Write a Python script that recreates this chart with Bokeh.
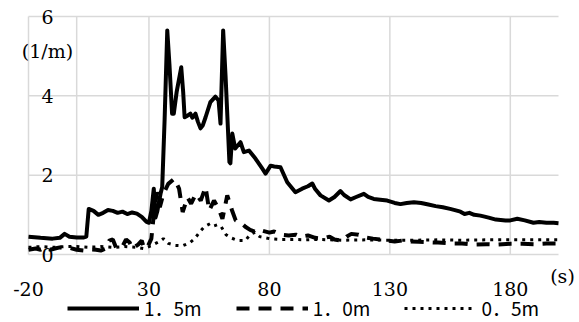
from bokeh.plotting import figure
from bokeh.models import (Range1d, Label, LabelSet, ColumnDataSource, Legend,
                          LegendItem)
from bokeh.core.properties import value
from bokeh.embed import file_html
from bokeh.resources import INLINE

# --- data -------------------------------------------------------------
# 1.5 m series: time (s) and value (1/m)
t_15 = [-20, -15, -10, -7, -5, -3, 0, 3, 4, 5, 7, 9, 11, 13, 15, 17, 19, 21, 23,
        25, 27, 29, 30, 31, 32, 32.7, 33.5, 34.8, 35.5, 36.5, 37.6, 38.5, 39.6,
        40.3, 41.5, 43.4, 44.2, 44.8, 46, 47.2, 48, 49.3, 50.3, 51.4, 52.3, 53.5,
        55.5, 57.6, 58.9, 59.7, 60.8, 61.8, 63.4, 63.8, 64.6, 65.8, 68, 69.4,
        71.5, 74.2, 77, 78.4, 80.5, 82, 84.6, 87.4, 90.8, 93.6, 96, 97.8, 99,
        101.2, 104.7, 107, 109.5, 111, 113.7, 116, 119.2, 121, 123.3, 126, 128.9,
        132, 134.4, 137, 140, 143, 146, 149, 152, 155, 157, 159.3, 161, 163, 165,
        167.6, 171, 174, 176, 178, 180, 182.9, 186, 189.6, 192, 195, 198, 200]
v_15 = [0.45, 0.42, 0.40, 0.42, 0.52, 0.45, 0.43, 0.43, 0.45, 1.15, 1.10, 1.00,
        1.05, 1.12, 1.10, 1.05, 1.08, 1.02, 1.06, 1.03, 0.95, 0.82, 0.80, 1.10,
        1.66, 0.93, 1.10, 1.53, 1.70, 3.40, 5.65, 4.80, 3.55, 3.55, 4.10, 4.72,
        4.10, 3.46, 3.50, 3.55, 3.45, 3.55, 3.35, 3.18, 3.25, 3.46, 3.84, 3.98,
        3.88, 3.30, 5.65, 4.50, 2.33, 2.30, 3.05, 2.67, 2.83, 2.58, 2.62, 2.42,
        2.17, 2.04, 2.24, 2.22, 2.20, 1.82, 1.57, 1.66, 1.72, 1.79, 1.65, 1.49,
        1.36, 1.45, 1.60, 1.50, 1.39, 1.45, 1.53, 1.45, 1.40, 1.38, 1.36, 1.30,
        1.27, 1.30, 1.32, 1.30, 1.26, 1.22, 1.19, 1.15, 1.12, 1.08, 1.02, 1.05,
        1.00, 0.98, 0.93, 0.88, 0.87, 0.86, 0.86, 0.90, 0.86, 0.80, 0.82, 0.80,
        0.80, 0.79]

# 1.0 m series
t_10 = [-20, -17, -15, -13, -11, -9, -7, -5, -3, 0, 3, 5, 8, 10, 12, 13.5, 15,
        16.5, 19, 20.5, 22, 23, 25.5, 27, 28, 29.5, 31, 32, 33.3, 34.5, 36, 38,
        40.5, 42.5, 44, 46, 47.5, 49.5, 51.5, 53.5, 55, 57, 59, 60.5, 62.5, 64.5,
        66, 68, 70, 72, 75, 77, 80, 82, 85, 88, 91, 93, 96, 99, 102, 105, 107,
        110, 112, 114, 117, 120, 123, 126, 129, 132, 135, 138, 142, 146, 150,
        155, 160, 165, 170, 175, 180, 185, 190, 195, 200]
v_10 = [0.12, 0.15, 0.12, 0.18, 0.12, 0.15, 0.18, 0.15, 0.17, 0.12, 0.10, 0.13,
        0.12, 0.10, 0.15, 0.35, 0.38, 0.15, 0.20, 0.38, 0.30, 0.15, 0.25, 0.35,
        0.15, 0.20, 0.40, 1.00, 1.57, 1.19, 1.53, 1.78, 1.91, 1.66, 1.07, 1.44,
        1.28, 1.53, 1.36, 1.70, 1.11, 1.36, 1.15, 0.90, 1.49, 1.11, 0.86, 0.81,
        0.70, 0.62, 0.55, 0.60, 0.55, 0.58, 0.50, 0.48, 0.50, 0.45, 0.48, 0.42,
        0.40, 0.45, 0.38, 0.35, 0.45, 0.52, 0.50, 0.43, 0.40, 0.38, 0.35, 0.33,
        0.35, 0.33, 0.32, 0.31, 0.30, 0.28, 0.28, 0.25, 0.26, 0.25, 0.27, 0.27,
        0.26, 0.28, 0.28]

# 0.5 m series
t_05 = [-20, -15, -10, -5, 0, 5, 10, 15, 20, 25, 28, 30, 32.5, 35, 36, 38, 41,
        44, 47, 49, 51.5, 53, 55.5, 57, 58.5, 60, 62, 64, 67, 70, 72, 74, 76, 80,
        85, 90, 95, 100, 110, 120, 130, 140, 150, 160, 170, 180, 190, 200]
v_05 = [0.18, 0.20, 0.18, 0.20, 0.20, 0.18, 0.20, 0.18, 0.20, 0.18, 0.15, 0.20,
        0.27, 0.35, 0.40, 0.28, 0.23, 0.22, 0.30, 0.40, 0.60, 0.70, 0.78, 0.72,
        0.75, 0.70, 0.50, 0.42, 0.35, 0.35, 0.50, 0.56, 0.45, 0.40, 0.38, 0.38,
        0.37, 0.38, 0.36, 0.37, 0.36, 0.36, 0.37, 0.36, 0.37, 0.37, 0.37, 0.37]

series_labels = ["1．5m", "1．0m", "0．5m"]
x_ticks = [-20, 30, 80, 130, 180]
x_tick_labels = ["-20", "30", "80", "130", "180"]
y_ticks = [0, 2, 4, 6]
y_tick_labels = ["0", "2", "4", "6"]
x_min, x_max = -20, 200
y_unit = "(1/m)"
x_unit = "(s)"

GRID = "#d9d9d9"
SERIF = "DejaVu Serif"
SANS_JP = "Noto Sans CJK JP"
FS = "19px"

# --- layout: plot box inside a 579 x 322 canvas --------------------------
W, H = 579, 322
BOX_L, BOX_R, BOX_T, BOX_B = 28, 558, 16, 254          # pixels
y_min, y_max = y_ticks[0], y_ticks[-1]
sx = (BOX_R - BOX_L) / (x_max - x_min)                 # px per second
sy = (BOX_B - BOX_T) / (y_max - y_min)                 # px per 1/m

p = figure(width=W, height=H, output_backend="svg", toolbar_location=None,
           x_range=Range1d(x_min - BOX_L / sx, x_max + (W - BOX_R) / sx),
           y_range=Range1d(y_min - (H - BOX_B) / sy, y_max + BOX_T / sy),
           min_border=0)
p.outline_line_color = None
p.background_fill_color = "white"
p.border_fill_color = "white"
p.xaxis.visible = False
p.yaxis.visible = False
p.grid.visible = False

# grid over the value box, plus the value axis line at x = 0
p.segment(x0=x_ticks, y0=[y_min] * len(x_ticks), x1=x_ticks,
          y1=[y_max] * len(x_ticks), line_color=GRID, line_width=1.5)
p.segment(x0=[x_min] * len(y_ticks), y0=y_ticks, x1=[x_max] * len(y_ticks),
          y1=y_ticks, line_color=GRID, line_width=1.5)
p.segment(x0=[0], y0=[y_min], x1=[0], y1=[y_max], line_color=GRID, line_width=1.5)

# tick labels
xsrc = ColumnDataSource(dict(x=x_ticks, y=[y_min - 34 / sy] * len(x_ticks),
                             text=x_tick_labels))
p.add_layout(LabelSet(x="x", y="y", text="text", source=xsrc,
                      text_align="center", text_baseline="middle",
                      text_font=value(SERIF), text_font_size=value(FS),
                      text_color="black"))
ysrc = ColumnDataSource(dict(x=[-23 / sx] * len(y_ticks), y=y_ticks,
                             text=y_tick_labels))
p.add_layout(LabelSet(x="x", y="y", text="text", source=ysrc,
                      text_align="right", text_baseline="middle",
                      text_font=value(SERIF), text_font_size=value(FS),
                      text_color="black"))

# unit captions
p.add_layout(Label(x=x_min + 19 / sx, y=y_max - 34 / sy, text=y_unit,
                   text_align="center", text_baseline="middle",
                   text_font=SERIF, text_font_size=FS, text_color="black"))
p.add_layout(Label(x=x_max + 4 / sx, y=y_min - 21 / sy, text=x_unit,
                   text_align="center", text_baseline="middle",
                   text_font=SERIF, text_font_size=FS, text_color="black"))

# --- series -----------------------------------------------------------
r15 = p.line(t_15, v_15, line_color="black", line_width=4, line_join="round")
r10 = p.line(t_10, v_10, line_color="black", line_width=4, line_dash="13 9")
r05 = p.line(t_05, v_05, line_color="black", line_width=3, line_dash="3 5")

legend = Legend(items=[LegendItem(label=series_labels[0], renderers=[r15]),
                       LegendItem(label=series_labels[1], renderers=[r10]),
                       LegendItem(label=series_labels[2], renderers=[r05])],
                orientation="horizontal", location=(67, 1),
                glyph_width=72, glyph_height=20, label_standoff=5, spacing=34,
                padding=0, margin=0, background_fill_alpha=0,
                border_line_alpha=0, label_text_font=SANS_JP,
                label_text_font_size="19px", label_text_color="black")
p.add_layout(legend)

open("out.html", "w").write(file_html(p, INLINE))
